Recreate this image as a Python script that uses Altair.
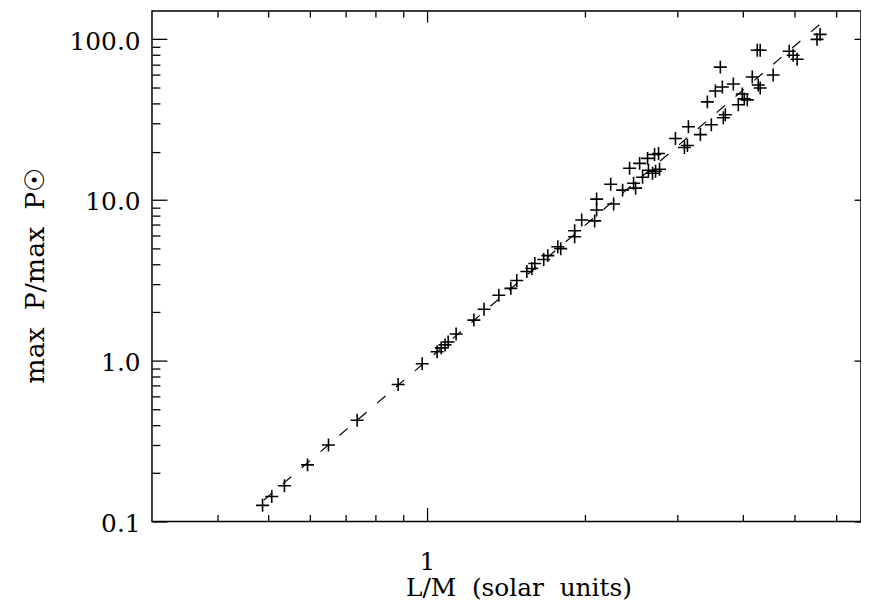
import altair as alt
import pandas as pd

# L/M (solar units) and max P / max P_sun
lm = [0.487, 0.507, 0.536, 0.593, 0.650, 0.737, 0.882, 0.980, 1.046, 1.065,
      1.083, 1.098, 1.137, 1.229, 1.285, 1.371, 1.445, 1.483, 1.550, 1.584,
      1.605, 1.669, 1.699, 1.775, 1.798, 1.911, 1.911, 1.971, 2.086, 2.104,
      2.104, 2.238, 2.267, 2.358, 2.431, 2.474, 2.496, 2.540, 2.573, 2.630,
      2.641, 2.688, 2.712, 2.724, 2.760, 2.772, 2.972, 3.091, 3.132, 3.146,
      3.315, 3.418, 3.478, 3.540, 3.618, 3.650, 3.666, 3.698, 3.830, 3.914,
      3.983, 4.018, 4.071, 4.161, 4.253, 4.308, 4.271, 4.308, 4.560, 4.892,
      4.977, 5.065, 5.526, 5.600]
pmax = [0.126, 0.143, 0.167, 0.225, 0.299, 0.426, 0.711, 0.958, 1.137, 1.203,
        1.255, 1.310, 1.468, 1.791, 2.094, 2.556, 2.822, 3.162, 3.593, 3.751,
        4.026, 4.263, 4.512, 5.127, 4.984, 5.909, 6.438, 7.524, 7.418, 8.677,
        10.14, 12.55, 9.447, 11.53, 15.76, 12.73, 11.86, 16.92, 13.87, 18.17,
        15.32, 14.68, 19.23, 15.10, 19.51, 15.54, 24.14, 21.24, 21.85, 28.62,
        25.55, 40.84, 29.45, 47.75, 67.18, 50.53, 32.53, 33.95, 52.73, 39.14,
        45.76, 42.62, 42.03, 58.27, 85.5, 85.5, 52.0, 49.84, 59.95, 84.3,
        79.65, 75.24, 100.0, 107.4]

# dashed power-law fit
fit_lm = [0.49, 5.72]
fit_p = [0.136, 132.0]

# axis ticks
x_major = [1]
x_minor = [0.4, 0.5, 0.6, 0.7, 0.8, 0.9, 2, 3, 4, 5, 6]
y_major = [0.1, 1, 10, 100]
y_minor = [0.2, 0.3, 0.4, 0.5, 0.6, 0.7, 0.8, 0.9,
           2, 3, 4, 5, 6, 7, 8, 9,
           20, 30, 40, 50, 60, 70, 80, 90]

NB = "\u00a0"
x_title = "L/M" + NB * 2 + "(solar" + NB * 2 + "units)"
y_title = "max" + NB * 2 + "P/max" + NB * 2 + "P☉"

pts = pd.DataFrame({"lm": lm, "p": pmax})
fit = pd.DataFrame({"lm": fit_lm, "p": fit_p})

W, H = 714, 514
FONT = "DejaVu Serif"
FS = 25
XTFS = 25
YTFS = 27

xscale = alt.Scale(type="log", domain=[0.3, 6.7], nice=False)
yscale = alt.Scale(type="log", domain=[0.1, 150], nice=False)

x_test = "datum.value == 1"
y_test = "datum.value == 0.1 || datum.value == 1 || datum.value == 10 || datum.value == 100"


def tick_axis(orient, offset, values, test, big, small):
    return alt.Axis(
        orient=orient, offset=offset, values=values, labels=False,
        domain=False, grid=False, ticks=True, title="",
        tickColor="black", tickWidth=1.3,
        tickSize={"condition": {"test": test, "value": big}, "value": small},
    )


# points layer: carries the labelled axes
points = alt.Chart(pts).mark_point(
    shape="M-1,0H1M0,-1V1", size=170, filled=False,
    stroke="black", strokeWidth=1.6, opacity=1,
).encode(
    x=alt.X("lm:Q", scale=xscale, axis=alt.Axis(
        orient="bottom", values=x_major, format="d", ticks=False, tickSize=0,
        domain=False, grid=False, labelFont=FONT, labelFontSize=FS,
        labelColor="black", labelPadding=28,
        title=x_title, titleFont=FONT, titleFontSize=XTFS,
        titleFontWeight="normal", titleColor="black",
        titleX=369, titleY=75, titleBaseline="alphabetic", titleAlign="center",
    )),
    y=alt.Y("p:Q", scale=yscale, axis=alt.Axis(
        orient="left", values=y_major, format=".1f", ticks=False, tickSize=0,
        domain=False, grid=False, labelFont=FONT, labelFontSize=FS,
        labelColor="black", labelPadding=12, labelOffset=2,
        title=y_title, titleFont=FONT, titleFontSize=YTFS,
        titleFontWeight="normal", titleColor="black",
        titleX=-109, titleY=266, titleAngle=270,
        titleBaseline="alphabetic", titleAlign="center",
    )),
)

# fit line: carries inward ticks on bottom and left edges
line = alt.Chart(fit).mark_line(
    color="black", strokeWidth=1.2, strokeDash=[11, 14]
).encode(
    x=alt.X("lm:Q", scale=xscale,
            axis=tick_axis("top", -H, x_major + x_minor, x_test, 14, 7)),
    y=alt.Y("p:Q", scale=yscale,
            axis=tick_axis("right", -W, y_major + y_minor, y_test, 15, 8)),
)

# invisible layer: carries inward ticks on top and right edges
ghost = alt.Chart(pts).mark_point(opacity=0).encode(
    x=alt.X("lm:Q", scale=xscale,
            axis=tick_axis("bottom", -H, x_major + x_minor, x_test, 11, 6)),
    y=alt.Y("p:Q", scale=yscale,
            axis=tick_axis("left", -W, y_major, y_test, 7, 7)),
)

chart = alt.layer(line, points, ghost).resolve_axis(
    x="independent", y="independent"
).properties(
    width=W, height=H,
    autosize=alt.AutoSizeParams(type="none"),
    padding={"left": 145, "top": 1, "right": 0, "bottom": 78},
    background="white",
).configure_view(stroke="black", strokeWidth=1.5)

chart.save("out.html", embed_options={"renderer": "svg", "actions": False})
